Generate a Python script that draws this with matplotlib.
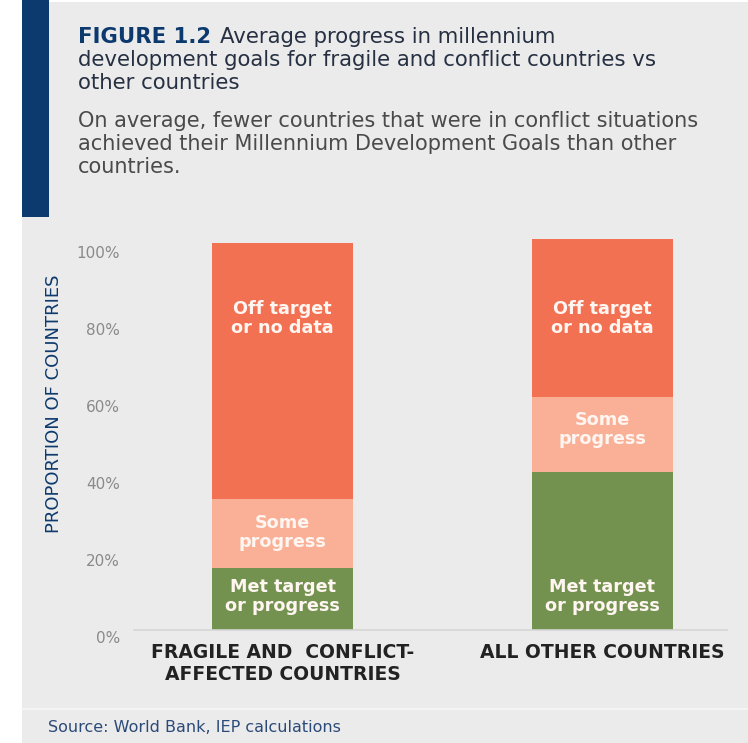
import matplotlib.pyplot as plt
import matplotlib.patches as mpatches
import matplotlib.transforms as mtransforms
import numpy as np

# data
groups = ["FRAGILE AND  CONFLICT-\nAFFECTED COUNTRIES", "ALL OTHER COUNTRIES"]
met_target = [16, 41]
some_progress = [18, 19.5]
off_target = [66.5, 41]
segment_names = ["Met target\nor progress", "Some\nprogress", "Off target\nor no data"]
yticks = [0, 20, 40, 60, 80, 100]

GREEN = "#74924f"
PINK = "#f9b096"
ORANGE = "#f37153"
NAVY = "#0d3a6e"
BG = "#ebebeb"
FONT = "DejaVu Sans"

W, H = 748, 743
fig = plt.figure(figsize=(W / 100, H / 100), dpi=100)
fig.patch.set_facecolor(BG)

def px(x, y):
    # pixel coords (top-left origin) -> figure fraction
    return x / W, 1 - y / H

# white margin on the left and top, dark blue bar
fig.patches.append(mpatches.Rectangle((0, 0), 22 / W, 1, transform=fig.transFigure,
                                      facecolor="white", edgecolor="none", zorder=-5))
fig.patches.append(mpatches.Rectangle((0, 1 - 2 / H), 1, 2 / H, transform=fig.transFigure,
                                      facecolor="white", edgecolor="none", zorder=-5))
fig.patches.append(mpatches.Rectangle((22 / W, 1 - 217 / H), 27 / W, 217 / H, transform=fig.transFigure,
                                      facecolor=NAVY, edgecolor="none", zorder=-4))
# separator above source line
fig.add_artist(plt.Line2D([22 / W, 1], [1 - 709 / H] * 2, transform=fig.transFigure,
                          color="#f7f7f7", lw=1.2))

# axes placed so that 0% sits at y=630 px and 102% at ~237 px
ymax = 102
top_px = 630 - 385 * ymax / 100
ax = fig.add_axes([134 / W, (H - 630) / H, (727 - 134) / W, (630 - top_px) / H])
ax.set_facecolor("none")

x = np.arange(len(groups))
width = 0.441
ax.bar(x, met_target, width, color=GREEN)
ax.bar(x, some_progress, width, bottom=met_target, color=PINK)
ax.bar(x, off_target, width, bottom=np.add(met_target, some_progress), color=ORANGE)

ax.set_xlim(-0.4648, 1.391)
ax.set_ylim(0, ymax)

for s in ["top", "right", "left"]:
    ax.spines[s].set_visible(False)
ax.spines["bottom"].set_color("#d6d6d6")
ax.spines["bottom"].set_linewidth(1.2)

ax.set_yticks(yticks)
ax.set_yticklabels([f"{t}%" for t in yticks], fontsize=11, color="#8a8a8a", family=FONT)
ax.tick_params(axis="y", length=0, pad=10)
offset = mtransforms.ScaledTranslation(0, -7 / 100, fig.dpi_scale_trans)
for lab in ax.get_yticklabels():
    lab.set_transform(lab.get_transform() + offset)

ax.set_xticks(x)
ax.set_xticklabels(groups, fontsize=13.5, fontweight="bold", color="#222222",
                   family=FONT, linespacing=1.25)
ax.tick_params(axis="x", length=0, pad=9)

ax.set_ylabel("PROPORTION OF COUNTRIES", fontsize=13, color=NAVY, family=FONT)
ax.yaxis.set_label_coords(-0.12, 0.575)

# segment labels
label_y = [[8.8, 8.8], [25.3, 52], [81, 81]]
for name, ys in zip(segment_names, label_y):
    for xi, yv in zip(x, ys):
        ax.text(xi, yv, name, ha="center", va="center", fontsize=12.7, color="#fff6f2",
                fontweight="bold", family=FONT, linespacing=1.08)

# title / subtitle
fig.canvas.draw()
r = fig.canvas.get_renderer()
t1 = fig.text(*px(78, 37), "FIGURE 1.2", fontsize=15.3, fontweight="bold", color=NAVY,
              family=FONT, va="center", ha="left")
bb = t1.get_window_extent(renderer=r)
fig.text((bb.x1 + 9) / W, 1 - 37 / H, "Average progress in millennium", fontsize=15.3,
         color="#263042", family=FONT, va="center", ha="left")
title_rest = ["development goals for fragile and conflict countries vs", "other countries"]
for i, line in enumerate(title_rest):
    fig.text(*px(78, 60 + 23 * i), line, fontsize=15.3, color="#263042", family=FONT,
             va="center", ha="left")
subtitle = ["On average, fewer countries that were in conflict situations",
            "achieved their Millennium Development Goals than other",
            "countries."]
for i, line in enumerate(subtitle):
    fig.text(*px(78, 121 + 23 * i), line, fontsize=15, color="#4a4a4a", family=FONT,
             va="center", ha="left")

fig.text(*px(48, 728), "Source: World Bank, IEP calculations", fontsize=11.5, color="#2b4a78",
         family=FONT, va="center", ha="left")

fig.savefig("out.png", dpi=100, facecolor=fig.get_facecolor())
